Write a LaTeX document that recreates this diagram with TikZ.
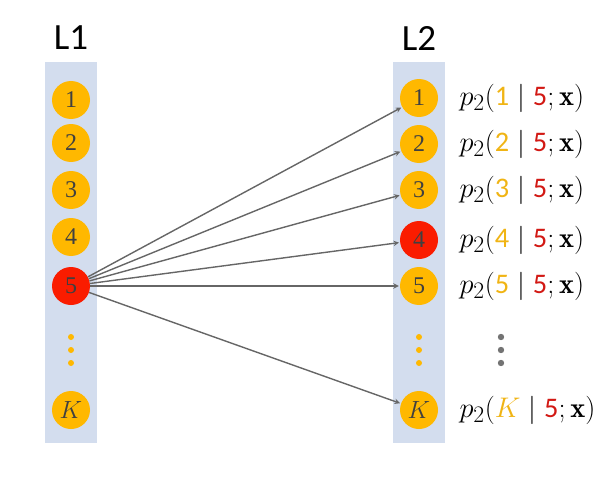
\documentclass[tikz,border=0pt]{standalone}
\usepackage{fontspec}
\newfontfamily\headfont{Carlito}
\newfontfamily\unitfont{Liberation Serif}
\definecolor{colbg}{RGB}{211,221,238}
\definecolor{unitorange}{RGB}{255,184,0}
\definecolor{unitred}{RGB}{250,28,0}
\definecolor{txtorange}{RGB}{240,180,20}
\definecolor{txtred}{RGB}{210,25,20}
\newcommand{\cond}[1]{\scalebox{1.14}{$p_2(\textcolor{txtorange}{#1}\mid\textcolor{txtred}{\mbox{\headfont 5}};\mathbf{x})$}}
\begin{document}
\begin{tikzpicture}[x=1pt,y=-1pt,
  layer/.style={fill=colbg, draw=none},
  unit/.style={circle, fill=unitorange, minimum size=38pt, inner sep=0pt, text=black!75, font=\unitfont\fontsize{24}{26}\selectfont},
  hot/.style={unit, fill=unitred},
  head/.style={font=\headfont\fontsize{37}{40}\selectfont},
  cond/.style={anchor=west, font=\fontsize{24.88}{27}\selectfont},
  link/.style={-stealth, draw=black!60, line width=1.4pt, shorten >=1pt}]
\useasboundingbox (0,0) rectangle (608,487);
%
\fill[colbg] (45,62) rectangle (97,443);
\fill[colbg] (393,62) rectangle (445,443);
\node[head] at (71,38) (L1) {L1};
\node[head] at (419,38) (L2) {L2};
%
\node[unit] at (71,100) (a1) {1};
\node[unit] at (71,143) (a2) {2};
\node[unit] at (71,190) (a3) {3};
\node[unit] at (71,237) (a4) {4};
\node[hot]  at (71,286) (a5) {5};
\node[unit] at (71,410) (aK) {$K$};
%
\node[unit] at (419,98)  (b1) {1};
\node[unit] at (419,144) (b2) {2};
\node[unit] at (419,190) (b3) {3};
\node[hot]  at (419,240) (b4) {4};
\node[unit] at (419,286) (b5) {5};
\node[unit] at (419,410) (bK) {$K$};
%
\foreach \y in {337,350,363} {
  \fill[unitorange] (71,\y) circle (3pt);
  \fill[unitorange] (419,\y) circle (3pt);
  \fill[black!55] (501,\y) circle (3.2pt);
}
%
\node[cond] at (456,98)  (p1) {\cond{\mbox{\headfont 1}}};
\node[cond] at (456,144) (p2) {\cond{\mbox{\headfont 2}}};
\node[cond] at (456,190) (p3) {\cond{\mbox{\headfont 3}}};
\node[cond] at (456,240) (p4) {\cond{\mbox{\headfont 4}}};
\node[cond] at (456,286) (p5) {\cond{\mbox{\headfont 5}}};
\node[cond] at (456,410) (pK) {\cond{K}};
%
\foreach \t in {1,2,3,4,5,K}
  \draw[link] (a5) -- (b\t);
\end{tikzpicture}
\end{document}
